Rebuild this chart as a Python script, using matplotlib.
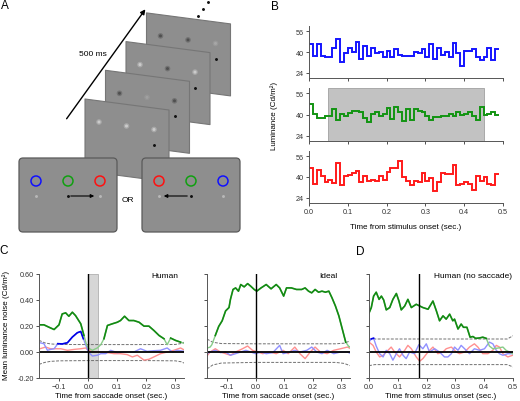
import numpy as np
import matplotlib
matplotlib.use("Agg")
from matplotlib import pyplot as plt
from matplotlib.patches import Polygon, FancyBboxPatch, Circle

plt.rcParams['font.family'] = ['Liberation Sans', 'DejaVu Sans']

# ---------------- data ----------------
# panel B: luminance per 10 ms frame (Cd/m2)
b_edges = np.arange(50) * 0.01
b_blue = [46, 37, 46, 37, 36, 36, 43, 50, 32, 39, 43, 40, 48, 35, 45, 37, 43, 39, 40, 36,
          41, 36, 42, 38, 37, 37, 37, 40, 39, 42, 36, 46, 35, 43, 38, 40, 36, 47, 39, 29,
          41, 41, 42, 36, 34, 36, 43, 34, 42]
b_green = [47.6, 40.5, 37, 37, 39, 38.5, 44.5, 36, 40.5, 39, 41, 42.5, 42.5, 42, 37, 34, 40.5, 42, 39, 40.5,
           45, 36.5, 45.5, 42, 35, 44.5, 35.5, 44.5, 43, 42, 39, 36, 38, 38, 39, 39, 40.5, 38.5, 42, 40,
           40.5, 42, 39, 36, 46, 40, 40.5, 42, 40]
b_red = [46.6, 34.4, 45.3, 40.8, 36.2, 37.5, 35.7, 50.4, 33.7, 40.8, 41.5, 43.3, 44.6, 36, 41, 37, 38, 37, 41, 38,
         44, 47, 47, 52, 40, 37, 34, 37, 36, 43, 37, 39, 29, 36, 43, 42, 42, 49, 34, 35,
         36, 35, 30, 41, 37, 40, 35, 34, 42]
b_window = (0.05, 0.45)

# panel C (human)
ch_green_t = [-0.167, -0.153, -0.136, -0.118, -0.101, -0.090, -0.078, -0.067, -0.055, -0.044, -0.026, -0.015,
              -0.006, 0.0, 0.014, 0.031, 0.043, 0.054, 0.066, 0.083, 0.100, 0.111, 0.125, 0.140, 0.157,
              0.175, 0.192, 0.209, 0.226, 0.244, 0.261, 0.272, 0.284, 0.301, 0.318, 0.333]
ch_green_v = [0.209, 0.209, 0.191, 0.173, 0.209, 0.293, 0.301, 0.275, 0.306, 0.280, 0.217, 0.127,
              0.056, 0.031, 0.013, 0.031, 0.056, 0.102, 0.204, 0.217, 0.229, 0.242, 0.275, 0.242, 0.242,
              0.229, 0.199, 0.199, 0.166, 0.127, 0.102, 0.056, 0.107, 0.089, 0.076, 0.064]
ch_blue_t = [-0.167, -0.153, -0.141, -0.130, -0.118, -0.105, -0.090, -0.072, -0.055, -0.038, -0.026, -0.017,
             -0.006, 0.0, 0.014, 0.031, 0.043, 0.060, 0.077, 0.100, 0.117, 0.134, 0.157, 0.180, 0.203,
             0.226, 0.249, 0.272, 0.290, 0.307, 0.333]
ch_blue_v = [0.071, 0.064, 0.013, 0.020, 0.025, 0.064, 0.062, 0.071, 0.115, 0.148, 0.158, 0.102,
             0.038, 0.0, -0.031, -0.025, -0.013, -0.013, 0.013, -0.005, 0.0, 0.0, 0.0, 0.025, 0.005,
             0.010, 0.013, 0.031, 0.0, 0.013, 0.005]
ch_red_t = [-0.167, -0.147, -0.130, -0.113, -0.095, -0.072, -0.049, -0.026, -0.009, 0.0, 0.020, 0.043, 0.066,
            0.089, 0.111, 0.134, 0.152, 0.169, 0.192, 0.209, 0.226, 0.249, 0.272, 0.295, 0.318, 0.333]
ch_red_v = [0.025, 0.038, 0.025, 0.025, 0.025, 0.013, 0.020, 0.025, 0.031, 0.013, 0.0, 0.0, -0.005,
            -0.013, -0.013, -0.020, -0.038, -0.025, -0.062, -0.056, -0.038, -0.013, 0.0, 0.013, 0.031, 0.013]
ch_bound_t = [-0.17, -0.15, -0.13, -0.10, 0.0, 0.2, 0.30, 0.32, 0.33]
ch_bound_hi = [0.09, 0.07, 0.062, 0.058, 0.057, 0.057, 0.058, 0.065, 0.075]
ch_bound_lo = [-0.095, -0.08, -0.072, -0.068, -0.066, -0.066, -0.068, -0.075, -0.085]
ch_band = (0.0, 0.034)

# panel C (ideal observer)
ci_green_t = [-0.170, -0.159, -0.153, -0.141, -0.129, -0.117, -0.105, -0.093, -0.088, -0.079, -0.070, -0.060,
              -0.052, -0.040, -0.028, -0.017, -0.005, 0.004, 0.019, 0.037, 0.054, 0.072, 0.084, 0.098,
              0.108, 0.125, 0.143, 0.161, 0.173, 0.185, 0.196, 0.208, 0.220, 0.232, 0.244, 0.256,
              0.267, 0.279, 0.291, 0.303, 0.315, 0.327, 0.333]
ci_green_v = [0.030, 0.038, 0.056, 0.127, 0.197, 0.240, 0.316, 0.342, 0.405, 0.481, 0.493, 0.468,
              0.519, 0.501, 0.526, 0.506, 0.481, 0.468, 0.493, 0.519, 0.486, 0.519, 0.493, 0.430,
              0.493, 0.493, 0.481, 0.481, 0.493, 0.468, 0.455, 0.481, 0.460, 0.468, 0.460, 0.468,
              0.417, 0.354, 0.278, 0.177, 0.076, 0.038, 0.046]
ci_blue_t = [-0.170, -0.159, -0.141, -0.123, -0.105, -0.088, -0.070, -0.052, -0.034, -0.017, 0.0, 0.019,
             0.037, 0.060, 0.084, 0.096, 0.120, 0.137, 0.155, 0.179, 0.196, 0.214, 0.232, 0.250, 0.273,
             0.297, 0.321, 0.333]
ci_blue_v = [-0.013, 0.0, 0.013, -0.005, 0.0, -0.025, -0.013, 0.0, 0.013, 0.0, -0.013, 0.0,
             -0.013, -0.005, 0.051, -0.013, 0.0, 0.013, 0.0, 0.013, 0.038, 0.0, -0.013, 0.013, -0.013,
             0.0, 0.0, -0.013]
ci_red_t = [-0.170, -0.159, -0.141, -0.123, -0.105, -0.088, -0.070, -0.046, -0.028, -0.011, 0.007, 0.025,
            0.049, 0.072, 0.096, 0.114, 0.137, 0.155, 0.173, 0.191, 0.208, 0.226, 0.250, 0.273, 0.297,
            0.321, 0.333]
ci_red_v = [-0.030, 0.0, 0.025, 0.0, -0.013, -0.025, 0.0, 0.025, 0.046, 0.013, 0.0, -0.013,
            0.0, -0.013, 0.013, -0.013, 0.038, -0.013, -0.051, 0.0, 0.038, 0.0, -0.013, 0.013, 0.025,
            0.038, 0.025]
ci_bound_t = [-0.17, -0.15, -0.12, 0.0, 0.28, 0.31, 0.33]
ci_bound_hi = [0.10, 0.075, 0.065, 0.063, 0.063, 0.068, 0.085]
ci_bound_lo = [-0.13, -0.10, -0.085, -0.08, -0.08, -0.088, -0.105]

# panel D (human, no saccade)
d_green_t = [0.0, 0.008, 0.016, 0.025, 0.035, 0.043, 0.051, 0.060, 0.072, 0.083, 0.095, 0.104, 0.112,
             0.124, 0.135, 0.147, 0.164, 0.176, 0.187, 0.205, 0.222, 0.234, 0.245, 0.257, 0.268, 0.280,
             0.291, 0.297, 0.309, 0.320, 0.328, 0.340, 0.351, 0.361, 0.370, 0.384, 0.395, 0.407, 0.418,
             0.430, 0.447, 0.465, 0.476, 0.488, 0.499]
d_green_v = [0.299, 0.342, 0.430, 0.460, 0.405, 0.430, 0.400, 0.324, 0.342, 0.405, 0.450, 0.392, 0.324,
             0.354, 0.405, 0.342, 0.367, 0.354, 0.342, 0.329, 0.392, 0.316, 0.240, 0.278, 0.253, 0.291,
             0.240, 0.253, 0.177, 0.215, 0.190, 0.190, 0.114, 0.119, 0.105, 0.108, 0.114, 0.105, 0.046,
             0.025, 0.030, 0.038, 0.013, 0.0, -0.013]
d_blue_t = [0.0, 0.008, 0.016, 0.025, 0.037, 0.049, 0.060, 0.072, 0.083, 0.095, 0.106, 0.118, 0.129,
            0.141, 0.158, 0.173, 0.187, 0.199, 0.210, 0.228, 0.245, 0.262, 0.274, 0.286, 0.297, 0.309,
            0.320, 0.332, 0.349, 0.366, 0.384, 0.401, 0.418, 0.430, 0.442, 0.453, 0.465, 0.482, 0.499]
d_blue_v = [0.076, 0.101, 0.106, 0.046, -0.013, -0.038, 0.013, -0.013, -0.063, -0.013, 0.025, -0.025, -0.051,
            0.0, -0.013, 0.056, 0.025, 0.063, 0.0, 0.025, 0.0, -0.038, -0.038, -0.013, 0.038, 0.013,
            0.051, 0.025, -0.013, 0.025, 0.013, 0.025, 0.076, 0.063, 0.013, -0.013, -0.025, -0.013, -0.013]
d_red_t = [0.0, 0.014, 0.025, 0.037, 0.049, 0.066, 0.077, 0.089, 0.106, 0.124, 0.135, 0.147, 0.164,
           0.176, 0.187, 0.205, 0.222, 0.239, 0.257, 0.268, 0.286, 0.303, 0.314, 0.332, 0.349, 0.366,
           0.378, 0.395, 0.413, 0.430, 0.442, 0.453, 0.465, 0.482, 0.499]
d_red_v = [0.076, 0.051, 0.0, -0.038, -0.025, 0.013, 0.038, 0.0, -0.038, 0.013, 0.051, 0.025, -0.038,
           -0.071, -0.051, 0.0, 0.038, -0.013, 0.0, 0.025, 0.038, 0.0, -0.013, 0.0, 0.038, 0.063,
           0.038, -0.013, -0.013, 0.013, 0.051, 0.038, -0.013, -0.038, -0.025]
d_bound_t = [0.0, 0.02, 0.48, 0.5]
d_bound_hi = [0.095, 0.10, 0.10, 0.125]
d_bound_lo = [-0.105, -0.097, -0.097, -0.115]
d_saccade_t = 0.173

# panel A: blob contrast in each frame, front to back (+ bright, - dark)
a_blobs = [[1.0, 1.0, 1.0], [-1.0, 0.3, -1.0], [1.0, -1.0, 1.0], [-1.0, -1.0, 0.4]]

# ---------------- figure ----------------
fig = plt.figure(figsize=(5.2, 4.02), dpi=100)
W, H = 520.0, 402.0

def px_axes(x0, y0, x1, y1):
    return fig.add_axes([x0 / W, 1 - y1 / H, (x1 - x0) / W, (y1 - y0) / H])

TICK = 5.2
LAB = 5.8

# ---- panel A (drawing in pixel coords) ----
axA = fig.add_axes([0, 0, 1, 1])
axA.set_xlim(0, W)
axA.set_ylim(H, 0)
axA.axis('off')
frame_col = '#8e8e8e'
for i in range(3, -1, -1):
    x0 = 85 + 20.5 * i
    y0 = 100 - 28.7 * i
    pts = [(x0, y0), (x0 + 84, y0 + 11), (x0 + 84, y0 + 83), (x0, y0 + 72)]
    axA.add_patch(Polygon(pts, closed=True, fc=frame_col, ec='#767676', lw=0.8, joinstyle='round'))
    for (rx, ry), c in zip([(14, 23), (41.5, 27), (69, 30.5)], a_blobs[i]):
        g = 0.557 + 0.26 * c
        axA.add_patch(Circle((x0 + rx, y0 + ry), 2.8, fc=(g, g, g), ec='none', alpha=0.4))
        axA.add_patch(Circle((x0 + rx, y0 + ry), 1.5, fc=(g, g, g), ec='none', alpha=0.9))
    axA.plot(x0 + 69, y0 + 46, 'o', ms=1.1, color='#111')

for bx, order, arrow in [(19, ['blue', 'green', 'red'], (68, 97)), (142, ['red', 'green', 'blue'], (190, 161))]:
    axA.add_patch(FancyBboxPatch((bx, 159), 98, 74, boxstyle='round,pad=0,rounding_size=4',
                                 fc=frame_col, ec='#5a5a5a', lw=0.9))
    for k, c in enumerate(order):
        cx = bx + 17 + 32 * k
        axA.add_patch(Circle((cx, 182), 5, fc='none', ec={'blue': '#1010ff', 'green': '#10a010', 'red': '#ff1010'}[c], lw=1.1))
        axA.plot(cx, 197, 'o', ms=1.1, color='#b8b8b8' if k != 1 else '#111')
    axA.annotate('', xy=(arrow[1], 197), xytext=(arrow[0], 197),
                 arrowprops=dict(arrowstyle='-|>', color='k', lw=0.8, mutation_scale=5))
axA.text(128, 201, 'OR', fontsize=6, ha='center', va='center')
axA.annotate('', xy=(147, 8), xytext=(65, 122),
             arrowprops=dict(arrowstyle='-|>', color='k', lw=1.0, mutation_scale=7))
axA.text(93, 55, '500 ms', fontsize=6, ha='center', va='center')
for dx, dy in [(198, 17), (203, 10), (208, 3)]:
    axA.plot(dx, dy, 'o', ms=1.1, color='#111')

for lab, x, y in [('A', 5, 6), ('B', 275, 7), ('C', 3.5, 251.5), ('D', 360, 252)]:
    fig.text(x / W, 1 - y / H, lab, fontsize=8.5, ha='center', va='center')

# ---- panel B ----
def style(ax):
    for s in ['top', 'right']:
        ax.spines[s].set_visible(False)
    for s in ['left', 'bottom']:
        ax.spines[s].set_color('#555')
        ax.spines[s].set_linewidth(0.7)
    ax.tick_params(labelsize=TICK, length=2, width=0.6, pad=1.5, colors='#333')

b_rows = [(27, 79, b_blue, '#1414ff'), (89, 142, b_green, '#129412'), (152, 204, b_red, '#ff1a1a')]
for j, (y0, y1, vals, col) in enumerate(b_rows):
    ax = px_axes(309, y0, 503, y1)
    style(ax)
    if j == 1:
        ax.axvspan(b_window[0], b_window[1], fc='#c2c2c2', ec='#a0a0a0', lw=0.6)
    ax.stairs(vals, b_edges, baseline=None, color=col, lw=1.4)
    ax.set_xlim(0, 0.5)
    ax.set_ylim(20, 60)
    ax.set_yticks([24, 40, 56])
    ax.set_xticks(np.arange(0, 0.51, 0.1))
    if j < 2:
        ax.set_xticklabels([])
    else:
        ax.set_xticklabels(['0.0', '0.1', '0.2', '0.3', '0.4', '0.5'])
        ax.set_xlabel('Time from stimulus onset (sec.)', fontsize=LAB, labelpad=6)
fig.text(274 / W, 1 - 116 / H, 'Luminance (Cd/m²)', rotation=90, fontsize=LAB, ha='center', va='center')

# ---- panel C / D ----
def kernel(ax, t, v, bt, bhi, blo, light, dark):
    t = np.asarray(t)
    v = np.asarray(v)
    ax.plot(t, v, color=light, lw=1.0)
    hi = np.interp(t, bt, bhi)
    lo = np.interp(t, bt, blo)
    ax.plot(t, np.ma.masked_where((v <= hi) & (v >= lo), v), color=dark, lw=1.2)

def bounds(ax, bt, bhi, blo):
    ax.plot(bt, bhi, color='#707070', lw=0.7, ls=(0, (3, 1.5)))
    ax.plot(bt, blo, color='#707070', lw=0.7, ls=(0, (3, 1.5)))

panels = [
    (39, 184, (-0.17, 0.33), 'Human', 165, [ch_green_t, ch_green_v, ch_blue_t, ch_blue_v, ch_red_t, ch_red_v],
     (ch_bound_t, ch_bound_hi, ch_bound_lo), 0.0, 'Time from saccade onset (sec.)'),
    (207, 350, (-0.17, 0.33), 'Ideal', 328, [ci_green_t, ci_green_v, ci_blue_t, ci_blue_v, ci_red_t, ci_red_v],
     (ci_bound_t, ci_bound_hi, ci_bound_lo), 0.0, 'Time from saccade onset (sec.)'),
    (369, 513, (0, 0.5), 'Human (no saccade)', 473, [d_green_t, d_green_v, d_blue_t, d_blue_v, d_red_t, d_red_v],
     (d_bound_t, d_bound_hi, d_bound_lo), d_saccade_t, 'Time from stimulus onset (sec.)'),
]
for j, (x0, x1, xl, title, tx, curves, bnd, vline, xlab) in enumerate(panels):
    ax = px_axes(x0, 275, x1, 379)
    style(ax)
    if j == 0:
        ax.axvspan(ch_band[0], ch_band[1], fc='#d6d6d6', ec='#b0b0b0', lw=0.6)
    bounds(ax, *bnd)
    kernel(ax, curves[4], curves[5], *bnd, '#ff9090', '#e00000')
    kernel(ax, curves[2], curves[3], *bnd, '#9090ff', '#0000e6')
    kernel(ax, curves[0], curves[1], *bnd, '#88cc88', '#138a13')
    ax.axhline(0, color='k', lw=1.3)
    ax.axvline(vline, color='k', lw=1.0)
    ax.set_xlim(*xl)
    ax.set_ylim(-0.2, 0.6)
    ax.set_yticks([-0.2, 0.0, 0.2, 0.4, 0.6])
    if j == 0:
        ax.set_yticklabels(['-0.20', '0.00', '0.20', '0.40', '0.60'])
        ax.set_xticks([-0.1, 0.0, 0.1, 0.2, 0.3])
        ax.set_xticklabels(['\u22120.1', '0.0', '0.1', '0.2', '0.3'])
    elif j == 1:
        ax.set_yticklabels([])
        ax.set_xticks([-0.1, 0.0, 0.1, 0.2, 0.3])
        ax.set_xticklabels(['\u22120.1', '0.0', '0.1', '0.2', '0.3'])
    else:
        ax.set_yticklabels([])
        ax.set_xticks(np.arange(0, 0.51, 0.1))
        ax.set_xticklabels(['0.0', '0.1', '0.2', '0.3', '0.4', '0.5'])
    ax.set_xlabel(xlab, fontsize=LAB, labelpad=1.5)
    fig.text(tx / W, 1 - 277 / H, title, fontsize=6, ha='center', va='center')
fig.text(6 / W, 1 - 325 / H, 'Mean luminance noise (Cd/m²)', rotation=90, fontsize=LAB, ha='center', va='center')

fig.savefig('out.png', dpi=100)
